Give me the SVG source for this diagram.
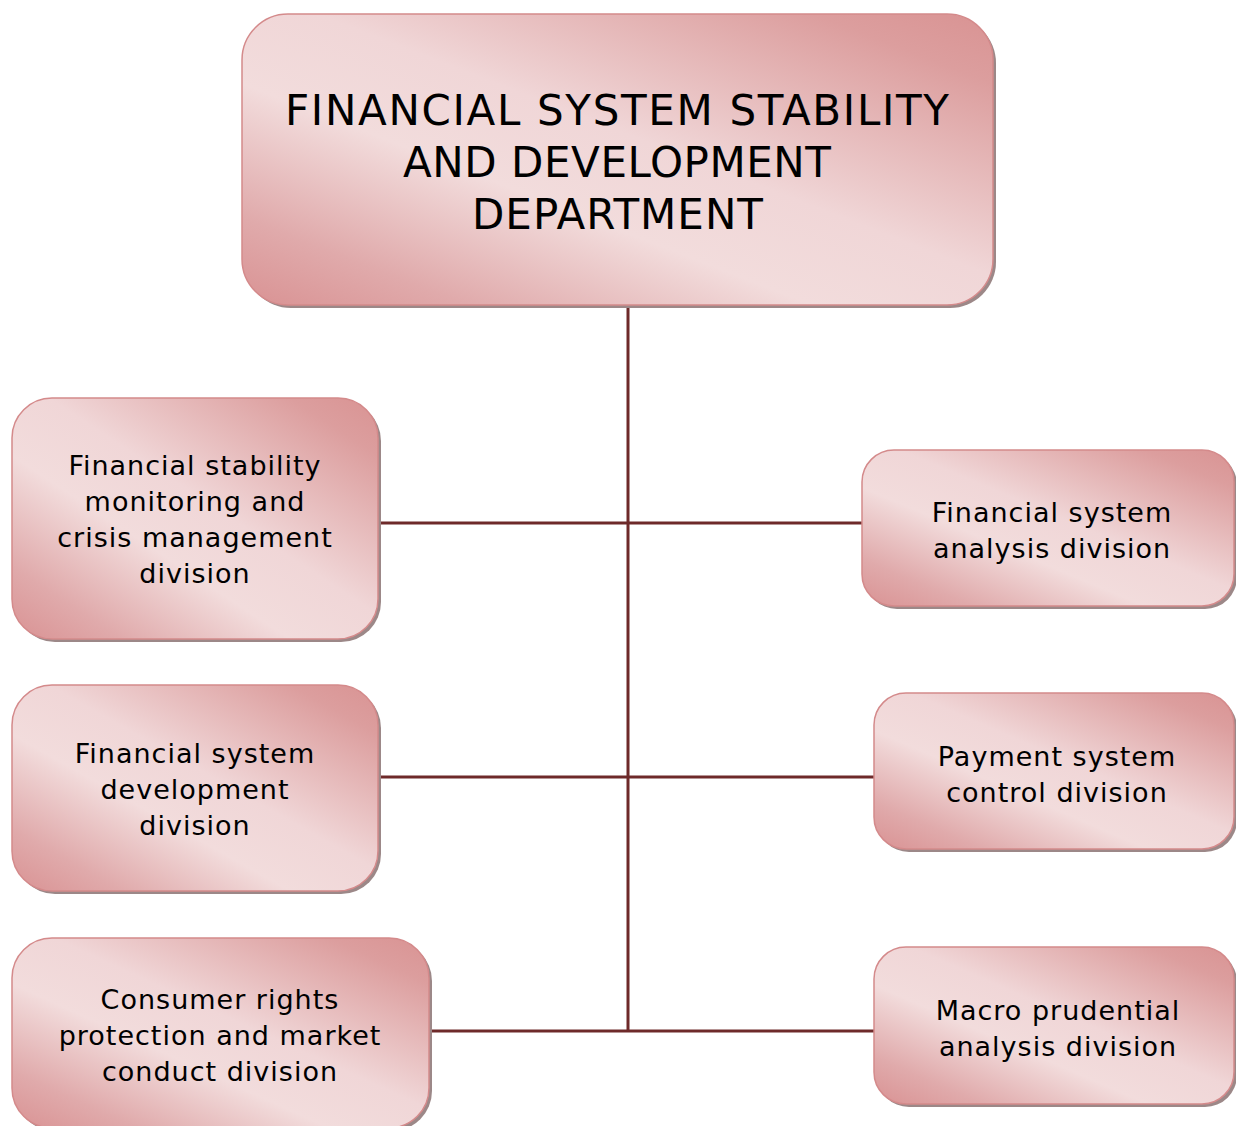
<svg xmlns="http://www.w3.org/2000/svg" width="1236" height="1126" viewBox="0 0 1236 1126">
<style>
.box{fill:url(#g);stroke:#d48a8b;stroke-width:1.5}
.sh{fill:#9c8888}
.t{font-family:"DejaVu Sans","Verdana",sans-serif;font-size:27px;letter-spacing:1px;fill:#000;text-anchor:middle}
.h{font-family:"DejaVu Sans","Verdana",sans-serif;font-size:42px;fill:#000;text-anchor:middle}
.c{stroke:#6e2a2a;stroke-width:3;fill:none}
</style>
<defs>
<linearGradient id="g" x1="1" y1="0" x2="0" y2="1">
<stop offset="0" stop-color="#d99393"/>
<stop offset="0.12" stop-color="#dc9e9e"/>
<stop offset="0.45" stop-color="#f0d6d7"/>
<stop offset="0.62" stop-color="#f2dcdc"/>
<stop offset="0.85" stop-color="#e0aaab"/>
<stop offset="1" stop-color="#d99293"/>
</linearGradient>
</defs>
<rect width="1236" height="1126" fill="#fff"/>
<g id="connectors">
<line class="c" x1="628" y1="305" x2="628" y2="1032"/>
<line class="c" x1="378" y1="523" x2="862" y2="523"/>
<line class="c" x1="378" y1="777" x2="874" y2="777"/>
<line class="c" x1="429" y1="1031" x2="874" y2="1031"/>
</g>
<g id="top">
<rect class="sh" x="245" y="17" width="751" height="291" rx="46"/>
<rect class="box" x="242" y="14" width="751" height="291" rx="46"/>
<text class="h" x="617" y="125" textLength="664" lengthAdjust="spacing">FINANCIAL SYSTEM STABILITY</text>
<text class="h" x="617" y="177" textLength="428" lengthAdjust="spacing">AND DEVELOPMENT</text>
<text class="h" x="617.5" y="229" textLength="291" lengthAdjust="spacing">DEPARTMENT</text>
</g>
<g id="left1">
<rect class="sh" x="15" y="401" width="366" height="241" rx="40"/>
<rect class="box" x="12" y="398" width="366" height="241" rx="40"/>
<text class="t" x="195" y="475">Financial stability</text>
<text class="t" x="195" y="511">monitoring and</text>
<text class="t" x="195" y="547">crisis management</text>
<text class="t" x="195" y="583">division</text>
</g>
<g id="left2">
<rect class="sh" x="15" y="688" width="366" height="206" rx="40"/>
<rect class="box" x="12" y="685" width="366" height="206" rx="40"/>
<text class="t" x="195" y="763">Financial system</text>
<text class="t" x="195" y="799">development</text>
<text class="t" x="195" y="835">division</text>
</g>
<g id="left3">
<rect class="sh" x="15" y="941" width="417" height="190" rx="40"/>
<rect class="box" x="12" y="938" width="417" height="190" rx="40"/>
<text class="t" x="220" y="1009">Consumer rights</text>
<text class="t" x="220" y="1045">protection and market</text>
<text class="t" x="220" y="1081">conduct division</text>
</g>
<g id="right1">
<rect class="sh" x="865" y="453" width="372" height="156" rx="32"/>
<rect class="box" x="862" y="450" width="372" height="156" rx="32"/>
<text class="t" x="1052" y="522">Financial system</text>
<text class="t" x="1052" y="558">analysis division</text>
</g>
<g id="right2">
<rect class="sh" x="877" y="696" width="360" height="156" rx="32"/>
<rect class="box" x="874" y="693" width="360" height="156" rx="32"/>
<text class="t" x="1057" y="766">Payment system</text>
<text class="t" x="1057" y="802">control division</text>
</g>
<g id="right3">
<rect class="sh" x="877" y="950" width="360" height="157" rx="32"/>
<rect class="box" x="874" y="947" width="360" height="157" rx="32"/>
<text class="t" x="1058" y="1020">Macro prudential</text>
<text class="t" x="1058" y="1056">analysis division</text>
</g>
</svg>
